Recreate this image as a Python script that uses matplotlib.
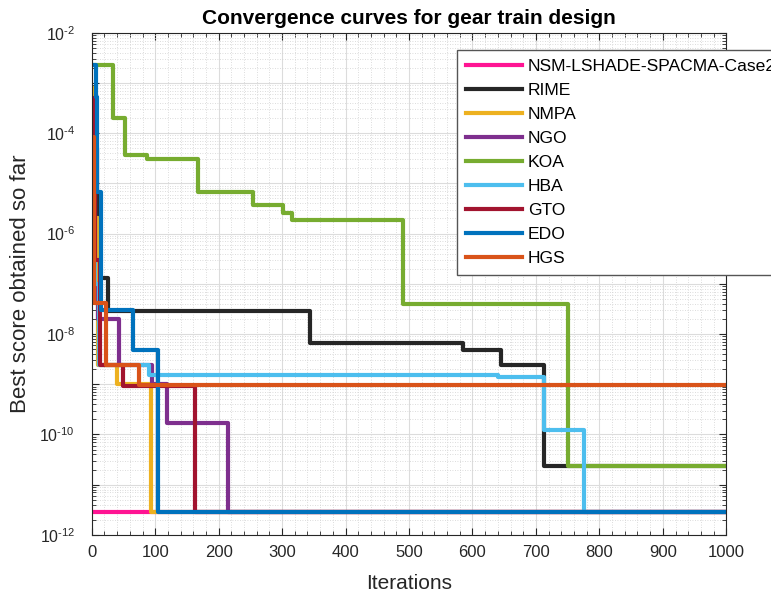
import matplotlib
matplotlib.use("Agg")
import matplotlib.pyplot as plt
from matplotlib.ticker import FixedLocator, MultipleLocator, LogLocator, NullFormatter

plt.rcParams['font.family'] = ['Liberation Sans', 'DejaVu Sans']
plt.rcParams['mathtext.default'] = 'regular'

# step curves: iteration where each new best value starts, and that value
names = ['NSM-LSHADE-SPACMA-Case2', 'RIME', 'NMPA', 'NGO', 'KOA', 'HBA', 'GTO', 'EDO', 'HGS']
colors = ['#FF1493', '#262626', '#EDB120', '#7E2F8E', '#77AC30', '#4DBEEE', '#A2142F', '#0072BD', '#D95319']

nsm_it = [0]
nsm_val = [2.9e-12]
rime_it = [0, 8, 25, 344, 585, 645, 713]
rime_val = [5e-5, 1.3e-7, 2.9e-8, 6.6e-9, 4.9e-9, 2.4e-9, 2.4e-11]
nmpa_it = [0, 3, 10, 40, 93]
nmpa_val = [8e-4, 2e-6, 2.4e-9, 1e-9, 2.9e-12]
ngo_it = [0, 2, 10, 43, 95, 118, 215]
ngo_val = [3.2e-6, 1e-7, 2e-8, 2.4e-9, 1e-9, 1.7e-10, 2.9e-12]
koa_it = [0, 33, 53, 87, 167, 254, 302, 315, 491, 751]
koa_val = [2.3e-3, 2.0e-4, 3.7e-5, 3.1e-5, 6.6e-6, 3.7e-6, 2.6e-6, 1.9e-6, 4e-8, 2.4e-11]
hba_it = [0, 5, 11, 91, 641, 712, 775]
hba_val = [2e-5, 1e-7, 2.4e-9, 1.5e-9, 1.4e-9, 1.2e-10, 2.9e-12]
gto_it = [0, 5, 13, 50, 162]
gto_val = [5e-4, 3e-7, 2.4e-9, 9.3e-10, 2.9e-12]
edo_it = [0, 6, 9, 14, 65, 105]
edo_val = [2.3e-3, 5.3e-4, 6.8e-6, 3e-8, 4.9e-9, 2.9e-12]
hgs_it = [0, 3, 22, 74]
hgs_val = [8.5e-5, 4.2e-8, 2.4e-9, 9.8e-10]

all_it = [nsm_it, rime_it, nmpa_it, ngo_it, koa_it, hba_it, gto_it, edo_it, hgs_it]
all_val = [nsm_val, rime_val, nmpa_val, ngo_val, koa_val, hba_val, gto_val, edo_val, hgs_val]

fig = plt.figure(figsize=(7.71, 5.95), dpi=100)
ax = fig.add_axes([0.119, 0.101, 0.823, 0.844])

for it, val, name, c in zip(all_it, all_val, names, colors):
    ax.step(it + [1000], val + [val[-1]], where='post', color=c, lw=3, label=name)

ax.set_yscale('log')
ax.set_xlim(0, 1000)
ax.set_ylim(1e-12, 1e-2)
ax.xaxis.set_major_locator(MultipleLocator(100))
ax.xaxis.set_minor_locator(MultipleLocator(20))
ax.yaxis.set_major_locator(FixedLocator([10.0**k for k in range(-12, -1)]))
ax.set_yticklabels(['$10^{\u2010%d}$' % -k if k % 2 == 0 else '' for k in range(-12, -1)])
ax.yaxis.set_minor_locator(LogLocator(base=10, subs=range(2, 10), numticks=100))
ax.yaxis.set_minor_formatter(NullFormatter())

ax.tick_params(which='both', direction='in', top=True, right=True, colors='#262626')
ax.tick_params(which='major', length=5)
ax.tick_params(which='minor', length=3)
ax.tick_params(axis='x', pad=7, labelsize=12)
ax.tick_params(axis='y', pad=12, labelsize=11.5)
ax.grid(which='major', color='#dcdcdc', lw=0.8)
ax.grid(which='minor', color='#d0d0d0', lw=0.6, ls=(0, (1, 2)))
ax.set_axisbelow(True)
for s in ax.spines.values():
    s.set_color('#262626')

ax.set_xlabel('Iterations', fontsize=15, color='#262626', labelpad=10)
ax.set_ylabel('Best score obtained so far', fontsize=16, color='#262626', labelpad=6)
ax.set_title('Convergence curves for gear train design', fontsize=15, fontweight='bold')

# legend sticks out past the right edge, as in the original
leg = fig.legend(loc='upper left', bbox_to_anchor=(0.593, 0.916), fontsize=12.6,
                 handlelength=3.2, handletextpad=0.35, borderaxespad=0, fancybox=False,
                 framealpha=1, edgecolor='#555555', borderpad=0.5, labelspacing=0.5)
leg.get_frame().set_linewidth(1.0)

fig.savefig('out.png', dpi=100)
